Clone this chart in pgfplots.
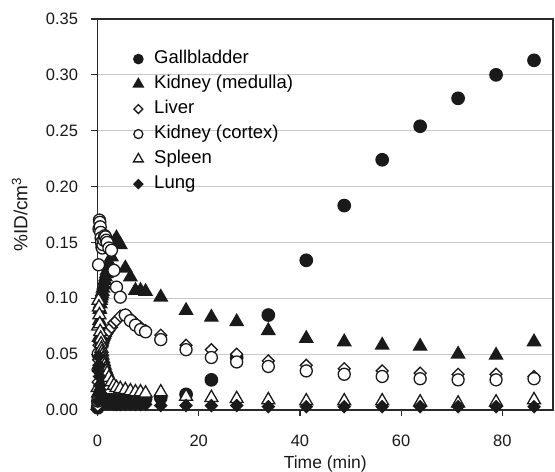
\documentclass[border=0pt]{standalone}
\usepackage{fontspec}
\setmainfont{Liberation Sans}
\usepackage{pgfplots}
\pgfplotsset{compat=1.18}
\usepackage{pgfplotstable}

\pgfplotstableread{
t     gb    med   liv   cor   spl   lung
0.04  0.002 0.004 0.004 0.008 0.020 0.008
0.13  0.006 0.015 0.025 0.050 0.075 0.035
0.21  0.010 0.040 0.045 0.130 0.098 0.048
0.29  0.012 0.065 0.058 0.162 0.092 0.040
0.38  0.012 0.080 0.062 0.170 0.085 0.030
0.46  0.011 0.090 0.063 0.168 0.077 0.022
0.54  0.010 0.095 0.062 0.164 0.070 0.018
0.63  0.010 0.098 0.060 0.159 0.064 0.015
0.71  0.009 0.100 0.058 0.154 0.059 0.013
0.79  0.009 0.102 0.057 0.150 0.055 0.011
0.88  0.009 0.104 0.057 0.146 0.052 0.010
0.96  0.009 0.106 0.058 0.145 0.049 0.009
1.08  0.009 0.109 0.060 0.148 0.046 0.008
1.25  0.009 0.112 0.062 0.152 0.043 0.008
1.42  0.009 0.116 0.064 0.156 0.040 0.007
1.58  0.009 0.119 0.066 0.155 0.037 0.007
1.75  0.009 0.122 0.068 0.152 0.035 0.007
1.92  0.009 0.125 0.069 0.150 0.033 0.006
2.25  0.009 0.132 0.071 0.145 0.029 0.006
2.75  0.009 0.137 0.074 0.143 0.025 0.006
3.25  0.009 0.150 0.078 0.125 0.022 0.005
3.75  0.009 0.154 0.080 0.110 0.020 0.005
4.5   0.009 0.148 0.084 0.101 0.019 0.005
5.5   0.009 0.127 0.085 0.085 0.018 0.005
6.5   0.009 0.119 0.082 0.080 0.017 0.005
7.5   0.010 0.107 0.078 0.076 0.016 0.005
8.5   0.010 0.107 0.074 0.072 0.016 0.005
9.5   0.010 0.106 0.071 0.070 0.015 0.005
12.5  0.011 0.101 0.067 0.063 0.016 0.004
17.5  0.014 0.089 0.058 0.054 0.012 0.004
22.5  0.027 0.083 0.054 0.047 0.011 0.004
27.5  0.047 0.079 0.050 0.043 0.010 0.004
33.75 0.085 0.071 0.044 0.039 0.009 0.003
41.25 0.134 0.064 0.040 0.035 0.008 0.003
48.75 0.183 0.061 0.037 0.032 0.008 0.003
56.25 0.224 0.058 0.035 0.030 0.008 0.003
63.75 0.254 0.057 0.033 0.028 0.007 0.003
71.25 0.279 0.050 0.032 0.027 0.006 0.003
78.75 0.300 0.049 0.032 0.027 0.007 0.003
86.25 0.313 0.061 0.030 0.028 0.009 0.003
}\data

\definecolor{mk}{HTML}{1A1A1A}
\definecolor{grd}{HTML}{C8C8C8}
\definecolor{axl}{HTML}{2A2A2A}

\begin{document}
\begin{tikzpicture}
\begin{axis}[
  name=ax,
  scale only axis,
  width=455.5pt, height=391pt,
  xmin=0, xmax=90, ymin=0, ymax=0.35,
  xtick={0,20,40,60,80},
  ytick={0,0.05,0.10,0.15,0.20,0.25,0.30,0.35},
  ymajorgrids,
  grid style={line width=1.2pt, color=grd},
  axis line style={line width=1.3pt, color=axl},
  tick style={line width=1.2pt, color=axl},
  tick align=outside,
  major tick length=6pt,
  xtick pos=bottom, ytick pos=left,
  /pgf/number format/assume math mode=true,
  yticklabel style={/pgf/number format/fixed, /pgf/number format/fixed zerofill, /pgf/number format/precision=2, xshift=-10pt},
  xticklabel style={yshift=-15pt},
  ticklabel style={font=\fontsize{16.5}{19}\selectfont, text=black!90},
  xlabel={Time (min)},
  ylabel={\%ID/cm\textsuperscript{3}},
  label style={text=black!90},
  xlabel style={font=\fontsize{17.5}{20}\selectfont, at={(axis description cs:0.5,-0.137)}, anchor=center},
  ylabel style={font=\fontsize{19}{22}\selectfont, at={(axis description cs:-0.171,0.5)}, anchor=center, rotate=0},
  legend cell align=left,
  legend image post style={scale=0.75},
  legend style={draw=none, fill=none, at={(axis description cs:0.072,0.93)}, anchor=north west,
    font=\fontsize{18.5}{21}\selectfont, row sep=4pt,
    nodes={inner sep=2pt, text height=13pt, text depth=4pt},
    /tikz/every odd column/.append style={column sep=9pt}},
  every axis plot/.append style={only marks, line width=1.3pt},
]
\addplot[mark=*, mark size=6.2pt, mark options={draw=mk, fill=mk}] table[x=t, y=gb] {\data};
\addlegendentry{Gallbladder}
\addplot[mark=triangle*, mark size=7.5pt, mark options={draw=mk, fill=mk}] table[x=t, y=med] {\data};
\addlegendentry{Kidney (medulla)}
\addplot[mark=square*, mark size=4.2pt, mark options={draw=mk, fill=white, rotate=45}] table[x=t, y=liv] {\data};
\addlegendentry{Liver}
\addplot[mark=*, mark size=6pt, mark options={draw=mk, fill=white}] table[x=t, y=cor] {\data};
\addlegendentry{Kidney (cortex)}
\addplot[mark=triangle*, mark size=7.5pt, mark options={draw=mk, fill=white}] table[x=t, y=spl] {\data};
\addlegendentry{Spleen}
\addplot[mark=square*, mark size=4.2pt, mark options={draw=mk, fill=mk, rotate=45}] table[x=t, y=lung] {\data};
\addlegendentry{Lung}
\end{axis}
\pgfresetboundingbox
\path[use as bounding box] ([xshift=-97.5pt,yshift=-61pt]ax.south west) rectangle ([xshift=2pt,yshift=19pt]ax.north east);
\end{tikzpicture}
\end{document}
